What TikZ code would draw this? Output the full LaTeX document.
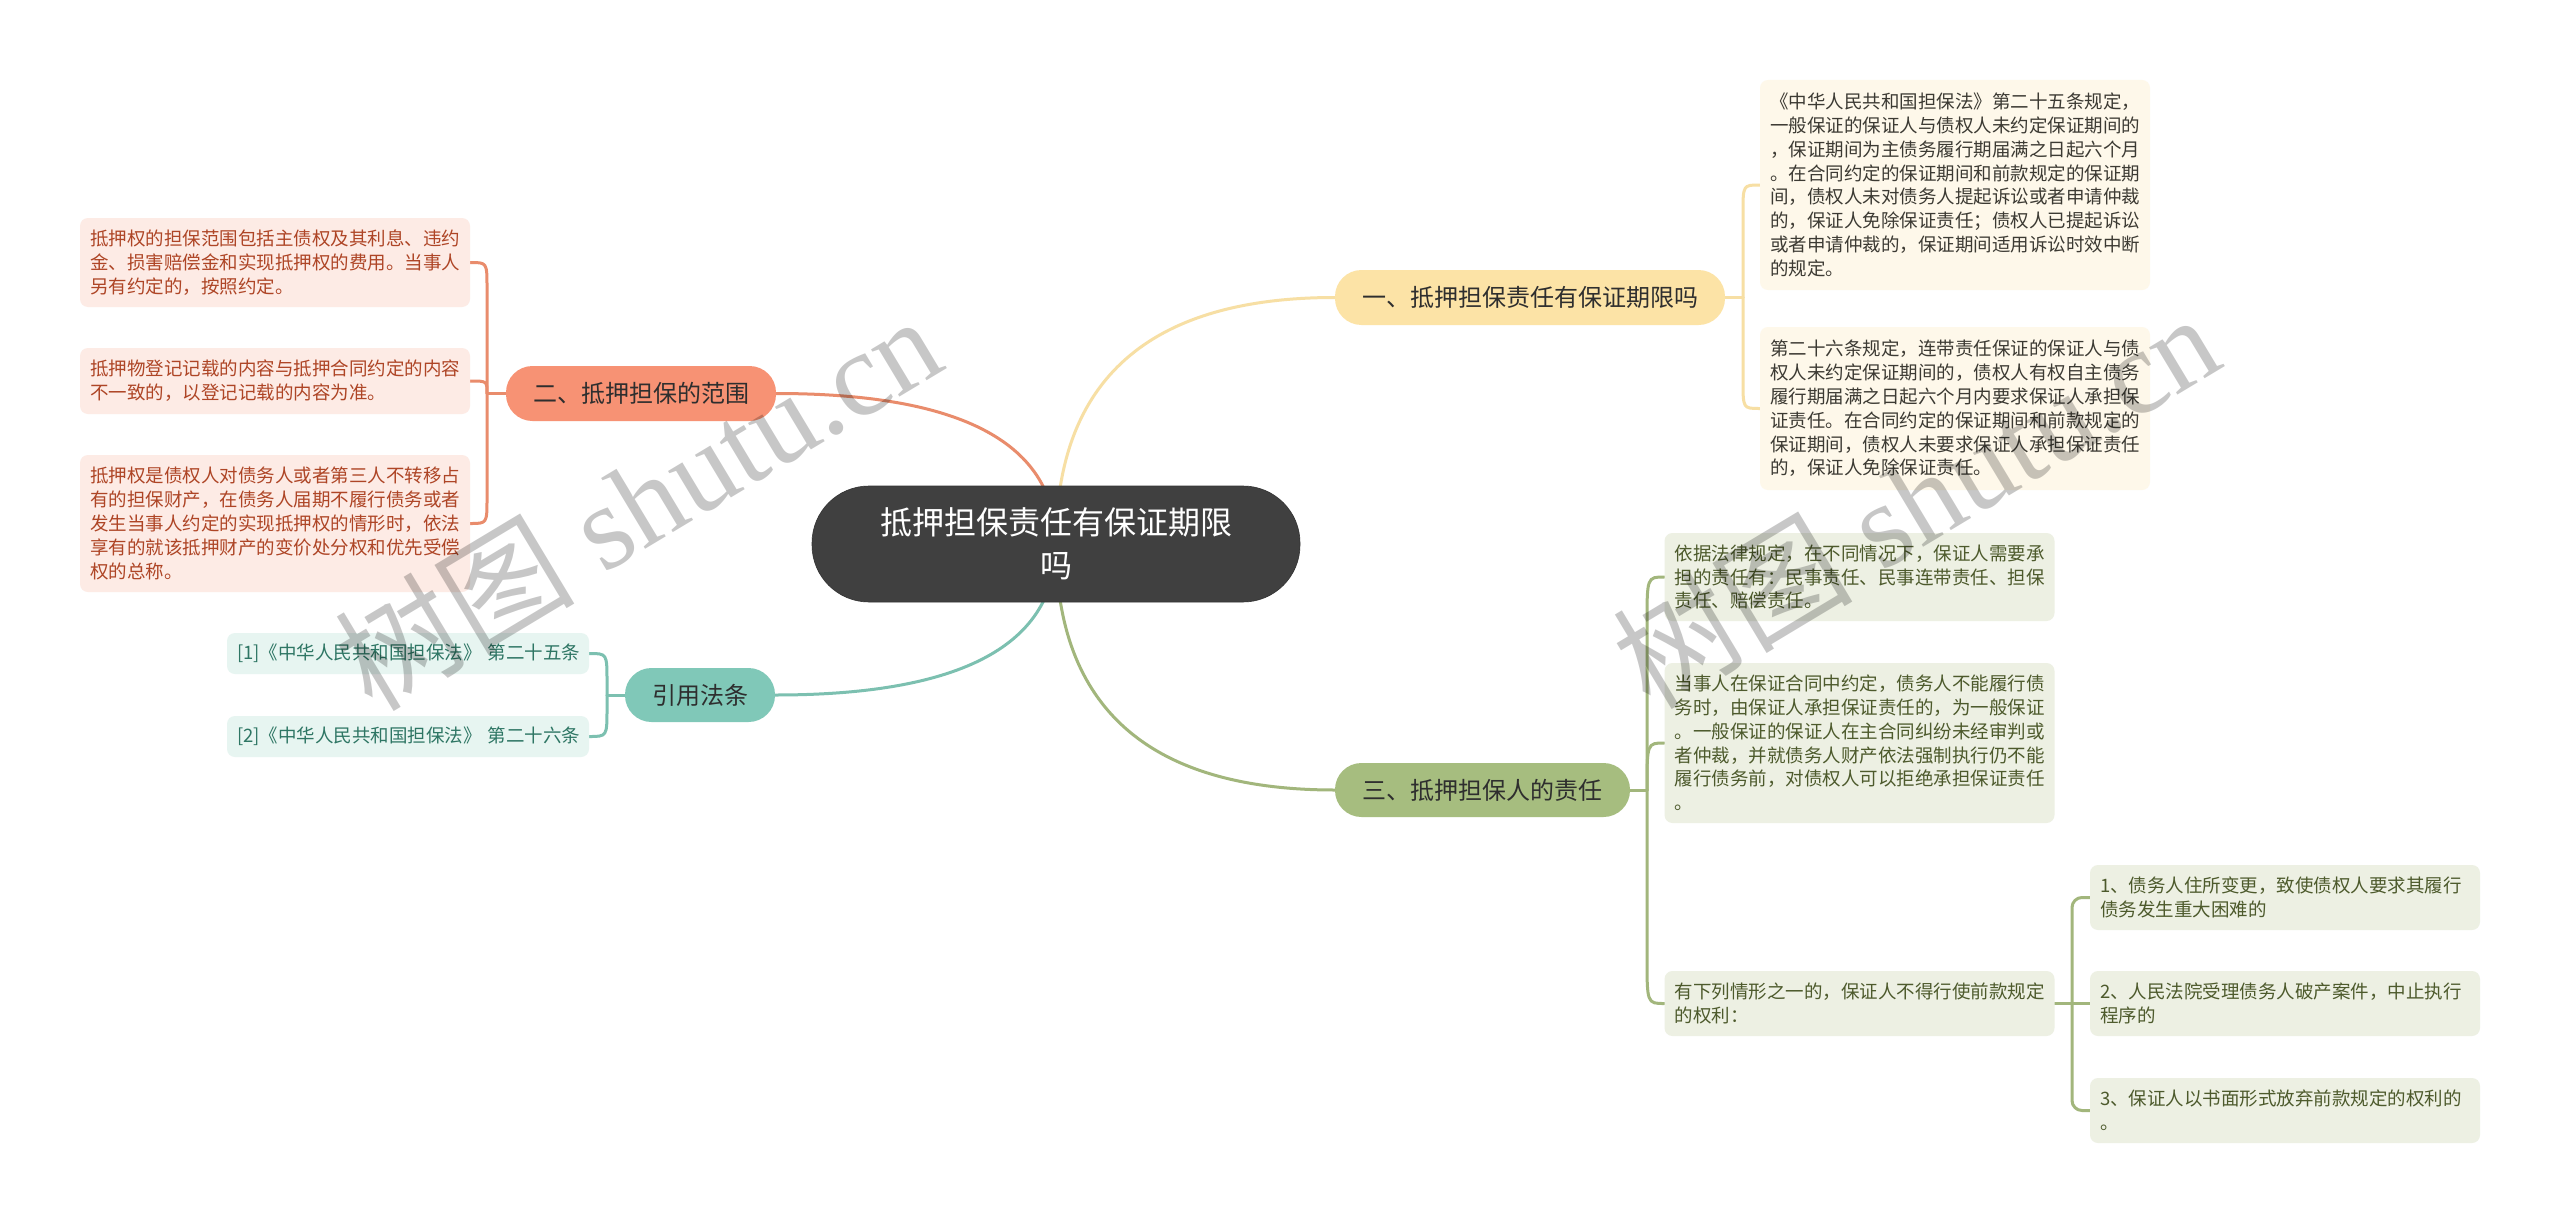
\documentclass[tikz,border=0pt]{standalone}
\usepackage{fontspec}
\newfontfamily\cjk{Noto Sans CJK SC}
\newfontfamily\wmserif{Liberation Serif}
\usetikzlibrary{calc,backgrounds}
\definecolor{rootfill}{HTML}{404040}
\definecolor{ybr}{HTML}{FCE3A6}
\definecolor{yln}{HTML}{F7DFA4}
\definecolor{ylf}{HTML}{FEF8EA}
\definecolor{ytx}{HTML}{3C3A33}
\definecolor{rbr}{HTML}{F79274}
\definecolor{rln}{HTML}{E98C6C}
\definecolor{rlf}{HTML}{FDEBE5}
\definecolor{rtx}{HTML}{AE4526}
\definecolor{tbr}{HTML}{80C8B8}
\definecolor{tln}{HTML}{7CC0B0}
\definecolor{tlf}{HTML}{E7F5F1}
\definecolor{ttx}{HTML}{2E7664}
\definecolor{gbr}{HTML}{A6BD7F}
\definecolor{gln}{HTML}{A2B67C}
\definecolor{glf}{HTML}{EDF0E3}
\definecolor{gtx}{HTML}{4D5A2C}
\definecolor{brtx}{HTML}{2E2E2E}
\tikzset{
  leafbox/.style={rounded corners=8pt, inner xsep=10pt, inner ysep=0pt,
    text width=370pt, align=left, font=\cjk\fontsize{18.5}{23.8}\selectfont},
  branchbox/.style={rounded corners=26.5pt, inner sep=0pt, minimum height=55pt,
    text=brtx, align=center, font=\cjk\fontsize{24}{28}\selectfont},
  rootbox/.style={rounded corners=57pt, inner sep=0pt, minimum width=488pt, minimum height=116pt,
    fill=rootfill, draw=black!80, line width=0.6pt, text=white, align=center,
    font=\cjk\fontsize{32}{43}\selectfont},
  conn/.style={line width=3pt, line cap=round},
  wmark/.style={text=black, text opacity=0.22, inner sep=0pt, anchor=base west, rotate=31,
    font=\wmserif\fontsize{120}{120}\selectfont},
}
\begin{document}
\begin{tikzpicture}[x=1pt,y=-1pt]
% root
\node[rootbox] (root) at (1056,544) {抵押担保责任有保证期限\\吗};
% branches
\node[branchbox, fill=ybr, minimum width=390pt] (b1) at (1530,297.5) {一、抵押担保责任有保证期限吗};
\node[branchbox, fill=rbr, minimum width=270pt] (b2) at (641,393.5) {二、抵押担保的范围};
\node[branchbox, fill=tbr, minimum width=150pt, minimum height=54pt] (b3) at (700,695) {引用法条};
\node[branchbox, fill=gbr, minimum width=295pt, minimum height=54pt] (b4) at (1482.5,790) {三、抵押担保人的责任};
% yellow leaves
\node[leafbox, fill=ylf, text=ytx, minimum height=210pt] (y1) at (1955,185) {《中华人民共和国担保法》第二十五条规定，\\一般保证的保证人与债权人未约定保证期间的\\，保证期间为主债务履行期届满之日起六个月\\。在合同约定的保证期间和前款规定的保证期\\间，债权人未对债务人提起诉讼或者申请仲裁\\的，保证人免除保证责任；债权人已提起诉讼\\或者申请仲裁的，保证期间适用诉讼时效中断\\的规定。};
\node[leafbox, fill=ylf, text=ytx, minimum height=163pt] (y2) at (1955,408.5) {第二十六条规定，连带责任保证的保证人与债\\权人未约定保证期间的，债权人有权自主债务\\履行期届满之日起六个月内要求保证人承担保\\证责任。在合同约定的保证期间和前款规定的\\保证期间，债权人未要求保证人承担保证责任\\的，保证人免除保证责任。};
% red leaves
\node[leafbox, fill=rlf, text=rtx, minimum height=89pt] (r1) at (275,262.5) {抵押权的担保范围包括主债权及其利息、违约\\金、损害赔偿金和实现抵押权的费用。当事人\\另有约定的，按照约定。};
\node[leafbox, fill=rlf, text=rtx, minimum height=66pt] (r2) at (275,381) {抵押物登记记载的内容与抵押合同约定的内容\\不一致的，以登记记载的内容为准。};
\node[leafbox, fill=rlf, text=rtx, minimum height=137pt] (r3) at (275,523.5) {抵押权是债权人对债务人或者第三人不转移占\\有的担保财产，在债务人届期不履行债务或者\\发生当事人约定的实现抵押权的情形时，依法\\享有的就该抵押财产的变价处分权和优先受偿\\权的总称。};
% teal leaves
\node[leafbox, fill=tlf, text=ttx, text width=342pt, minimum height=41pt] (t1) at (408,653.5) {\mbox{[1]《中华人民共和国担保法》 第二十五条}};
\node[leafbox, fill=tlf, text=ttx, text width=342pt, minimum height=41pt] (t2) at (408,736.5) {\mbox{[2]《中华人民共和国担保法》 第二十六条}};
% green leaves
\node[leafbox, fill=glf, text=gtx, minimum height=88pt] (g1) at (1859.5,577) {依据法律规定，在不同情况下，保证人需要承\\担的责任有：民事责任、民事连带责任、担保\\责任、赔偿责任。};
\node[leafbox, fill=glf, text=gtx, minimum height=160pt] (g2) at (1859.5,743) {当事人在保证合同中约定，债务人不能履行债\\务时，由保证人承担保证责任的，为一般保证\\。一般保证的保证人在主合同纠纷未经审判或\\者仲裁，并就债务人财产依法强制执行仍不能\\履行债务前，对债权人可以拒绝承担保证责任\\。};
\node[leafbox, fill=glf, text=gtx, minimum height=65pt] (g3) at (1859.5,1003.5) {有下列情形之一的，保证人不得行使前款规定\\的权利：};
\node[leafbox, fill=glf, text=gtx, minimum height=65pt] (s1) at (2285,897.5) {1、债务人住所变更，致使债权人要求其履行\\债务发生重大困难的};
\node[leafbox, fill=glf, text=gtx, minimum height=65pt] (s2) at (2285,1003.5) {2、人民法院受理债务人破产案件，中止执行\\程序的};
\node[leafbox, fill=glf, text=gtx, minimum height=65pt] (s3) at (2285,1110.5) {3、保证人以书面形式放弃前款规定的权利的\\。};
% spine points
\coordinate (ysp) at (1743,297.5);
\coordinate (rsp) at (487,393.5);
\coordinate (tsp) at (607,695);
\coordinate (gsp) at (1647,790);
\coordinate (ssp) at (2072,1003.5);
\begin{pgfonlayer}{background}
\fill[white] (0,0) rectangle (2560,1223);
\path[use as bounding box] (0,0) rectangle (2560,1223);
% main connectors
\draw[conn, draw=rln] (root.center) .. controls ($(root.center)!2/3!(root.center |- b2.east)$) and ($(b2.east)!2/3!(root.center |- b2.east)$) .. (b2.east);
\draw[conn, draw=yln] (root.center) .. controls ($(root.center)!2/3!(root.center |- b1.west)$) and ($(b1.west)!2/3!(root.center |- b1.west)$) .. (b1.west);
\draw[conn, draw=tln] (root.center) .. controls ($(root.center)!2/3!(root.center |- b3.east)$) and ($(b3.east)!2/3!(root.center |- b3.east)$) .. (b3.east);
\draw[conn, draw=gln] (root.center) .. controls ($(root.center)!2/3!(root.center |- b4.west)$) and ($(b4.west)!2/3!(root.center |- b4.west)$) .. (b4.west);
% yellow bracket
\draw[conn, draw=yln] (b1.east) -- (ysp);
\draw[conn, draw=yln] (ysp) -- ($(ysp |- y1.west)+(0,28)$) .. controls (ysp |- y1.west) .. (y1.west);
\draw[conn, draw=yln] (ysp) -- ($(ysp |- y2.west)+(0,-28)$) .. controls (ysp |- y2.west) .. (y2.west);
% red bracket
\draw[conn, draw=rln] (b2.west) -- (rsp);
\draw[conn, draw=rln] (rsp) -- ($(rsp |- r1.east)+(0,25)$) .. controls (rsp |- r1.east) .. (r1.east);
\draw[conn, draw=rln] (rsp) .. controls (rsp |- r2.east) .. (r2.east);
\draw[conn, draw=rln] (rsp) -- ($(rsp |- r3.east)+(0,-25)$) .. controls (rsp |- r3.east) .. (r3.east);
% teal bracket
\draw[conn, draw=tln] (b3.west) -- (tsp);
\draw[conn, draw=tln] (tsp) -- ($(tsp |- t1.east)+(0,28)$) .. controls (tsp |- t1.east) .. (t1.east);
\draw[conn, draw=tln] (tsp) -- ($(tsp |- t2.east)+(0,-28)$) .. controls (tsp |- t2.east) .. (t2.east);
% green bracket
\draw[conn, draw=gln] (b4.east) -- (gsp);
\draw[conn, draw=gln] (gsp) -- ($(gsp |- g1.west)+(0,48)$) .. controls (gsp |- g1.west) .. (g1.west);
\draw[conn, draw=gln] (gsp) .. controls (gsp |- g2.west) .. (g2.west);
\draw[conn, draw=gln] (gsp) -- ($(gsp |- g3.west)+(0,-48)$) .. controls (gsp |- g3.west) .. (g3.west);
% sub bracket
\draw[conn, draw=gln] (g3.east) -- (s2.west);
\draw[conn, draw=gln, rounded corners=10pt] (ssp) |- (s1.west);
\draw[conn, draw=gln, rounded corners=10pt] (ssp) |- (s3.west);
\end{pgfonlayer}
% watermarks
\node[wmark] (wm1) at (372,714) {{\cjk 树图} shutu.cn};
\node[wmark] (wm2) at (1650,712) {{\cjk 树图} shutu.cn};
\end{tikzpicture}
\end{document}
